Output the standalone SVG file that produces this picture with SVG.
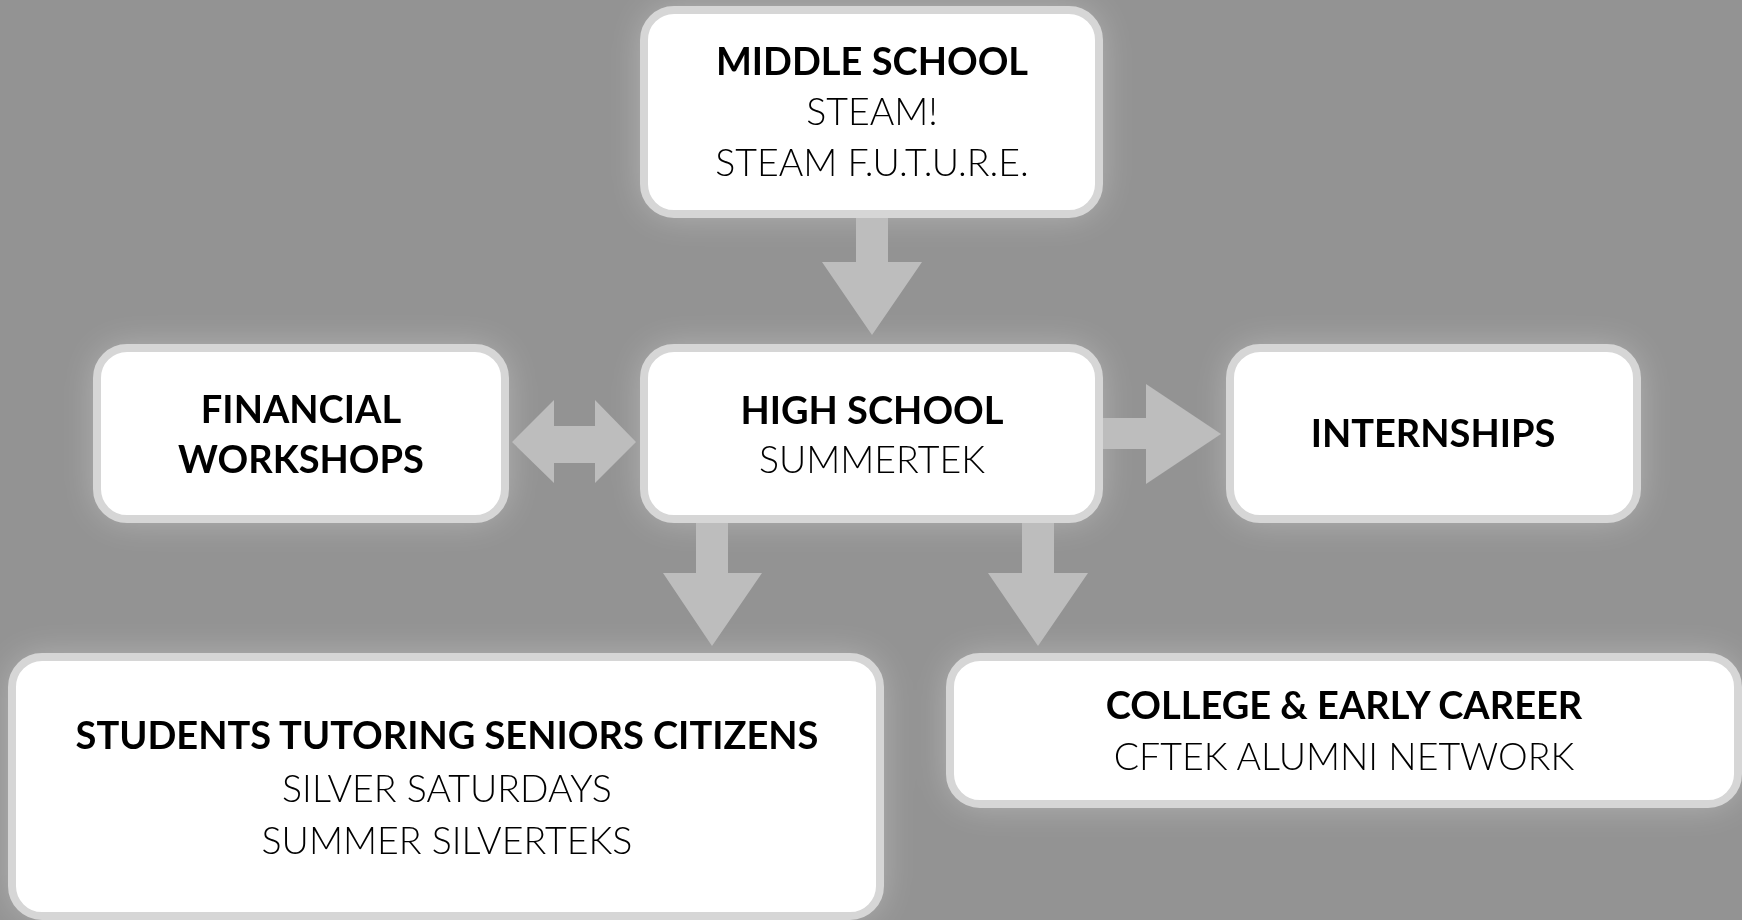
<svg xmlns="http://www.w3.org/2000/svg" width="1742" height="920" viewBox="0 0 1742 920">
  <defs>
    <filter id="glow" x="-20%" y="-40%" width="140%" height="180%">
      <feGaussianBlur stdDeviation="18"/>
    </filter>
    <style>
      .box { fill: #ffffff; stroke: #d6d6d6; stroke-width: 8; }
      .halo { fill: #ffffff; opacity: 0.35; }
      .arrow { fill: #bdbdbd; }
      .t { font-family: Lato, "Liberation Sans", sans-serif; fill: #000; text-anchor: middle; }
      .b { font-weight: 700; font-size: 38px; }
      .l { font-weight: 300; font-size: 37.5px; }
    </style>
  </defs>
  <rect x="0" y="0" width="1742" height="920" fill="#939393"/>
  <g id="halos" filter="url(#glow)">
    <rect class="halo" x="644" y="10" width="455" height="204" rx="30"/>
    <rect class="halo" x="644" y="348" width="455" height="171" rx="30"/>
    <rect class="halo" x="97" y="348" width="408" height="171" rx="30"/>
    <rect class="halo" x="1230" y="348" width="407" height="171" rx="30"/>
    <rect class="halo" x="12" y="657" width="868" height="259" rx="30"/>
    <rect class="halo" x="950" y="657" width="788" height="147" rx="30"/>
  </g>
  <g id="connectors">
    <polygon class="arrow" points="856,217 888,217 888,262 922,262 872,335 822,262 856,262"/>
    <polygon class="arrow" points="512,442 554,400 554,426 595,426 595,400 636,442 595,483 595,463 554,463 554,483"/>
    <polygon class="arrow" points="1103,418 1146,418 1146,384 1221,434 1146,484 1146,449 1103,449"/>
    <polygon class="arrow" points="696,522 728,522 728,573 762,573 712,646 663,573 696,573"/>
    <polygon class="arrow" points="1022,521 1054,521 1054,573 1088,573 1038,646 988,573 1022,573"/>
  </g>
  <g id="middle-school">
    <rect class="box" x="644" y="10" width="455" height="204" rx="30"/>
    <text class="t b" x="872" y="75">MIDDLE SCHOOL</text>
    <text class="t l" x="872" y="125">STEAM!</text>
    <text class="t l" x="872" y="176">STEAM F.U.T.U.R.E.</text>
  </g>
  <g id="high-school">
    <rect class="box" x="644" y="348" width="455" height="171" rx="30"/>
    <text class="t b" x="872" y="424">HIGH SCHOOL</text>
    <text class="t l" x="872" y="473">SUMMERTEK</text>
  </g>
  <g id="financial-workshops">
    <rect class="box" x="97" y="348" width="408" height="171" rx="30"/>
    <text class="t b" x="301" y="423">FINANCIAL</text>
    <text class="t b" x="301" y="473">WORKSHOPS</text>
  </g>
  <g id="internships">
    <rect class="box" x="1230" y="348" width="407" height="171" rx="30"/>
    <text class="t b" x="1433" y="447">INTERNSHIPS</text>
  </g>
  <g id="students-tutoring">
    <rect class="box" x="12" y="657" width="868" height="259" rx="30"/>
    <text class="t b" x="447" y="749">STUDENTS TUTORING SENIORS CITIZENS</text>
    <text class="t l" x="447" y="802">SILVER SATURDAYS</text>
    <text class="t l" x="447" y="854">SUMMER SILVERTEKS</text>
  </g>
  <g id="college-early-career">
    <rect class="box" x="950" y="657" width="788" height="147" rx="30"/>
    <text class="t b" x="1344" y="719">COLLEGE &amp; EARLY CAREER</text>
    <text class="t l" x="1344" y="770">CFTEK ALUMNI NETWORK</text>
  </g>
</svg>
